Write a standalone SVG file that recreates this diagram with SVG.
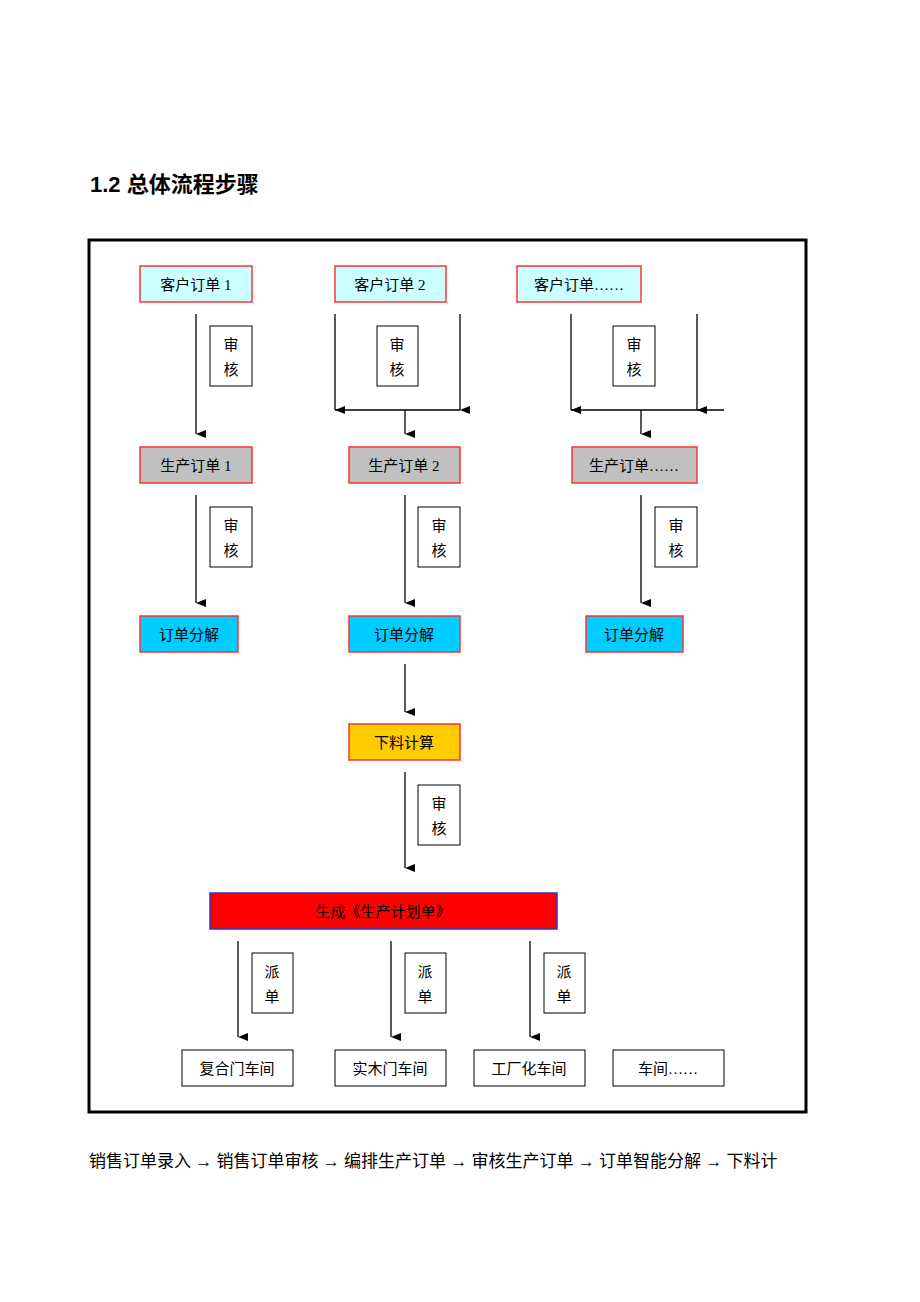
<svg xmlns="http://www.w3.org/2000/svg" width="920" height="1302" viewBox="0 0 920 1302">
<defs>
<marker id="a" markerWidth="8" markerHeight="10" refX="4" refY="10" orient="auto-start-reverse" viewBox="0 0 8 10" markerUnits="userSpaceOnUse"><path d="M0,0 L8,0 L4,10 z" fill="#000"/></marker>
<style>
text{font-family:"Liberation Serif","Noto Sans CJK SC",serif;font-size:15px;text-anchor:middle;fill:#000}
.r{stroke:#ff3333;stroke-width:1.5}
.k{fill:#fff;stroke:#000;stroke-width:1}
.c{stroke:#000;stroke-width:1.3;fill:none}
.ar{marker-end:url(#a)}
</style>
</defs>
<rect width="920" height="1302" fill="#fff"/>
<text x="90" y="192" style="font-family:'Liberation Sans','Noto Sans CJK SC',sans-serif;font-size:22px;font-weight:bold;text-anchor:start">1.2   总体流程步骤</text>
<rect x="89" y="240" width="717" height="872" fill="none" stroke="#000" stroke-width="3"/>
<g id="connectors">
<line class="c ar" x1="196" y1="314" x2="196" y2="434"/>
<line class="c ar" x1="335" y1="314" x2="335" y2="410"/>
<line class="c ar" x1="460" y1="314" x2="460" y2="410"/>
<line class="c" x1="335" y1="410" x2="460" y2="410"/>
<line class="c ar" x1="405" y1="410" x2="405" y2="434"/>
<line class="c ar" x1="571" y1="314" x2="571" y2="410"/>
<line class="c ar" x1="697" y1="314" x2="697" y2="410"/>
<line class="c" x1="571" y1="410" x2="724" y2="410"/>
<line class="c ar" x1="641" y1="410" x2="641" y2="434"/>
<line class="c ar" x1="196" y1="495" x2="196" y2="603"/>
<line class="c ar" x1="405" y1="495" x2="405" y2="603"/>
<line class="c ar" x1="641" y1="495" x2="641" y2="603"/>
<line class="c ar" x1="405" y1="664" x2="405" y2="712"/>
<line class="c ar" x1="405" y1="772" x2="405" y2="868"/>
<line class="c ar" x1="238" y1="941" x2="238" y2="1037"/>
<line class="c ar" x1="391" y1="941" x2="391" y2="1037"/>
<line class="c ar" x1="530" y1="941" x2="530" y2="1037"/>
</g>
<g id="c1"><rect class="r" x="140" y="266" width="112" height="36" fill="#ccffff"/><text x="196" y="290">客户订单 1</text></g>
<g id="c2"><rect class="r" x="335" y="266" width="111" height="36" fill="#ccffff"/><text x="390" y="290">客户订单 2</text></g>
<g id="c3"><rect class="r" x="517" y="266" width="124" height="36" fill="#ccffff"/><text x="579" y="290">客户订单……</text></g>
<g id="s1"><rect class="k" x="210" y="326" width="42" height="60"/><text x="231" y="350">审</text><text x="231" y="375">核</text></g>
<g id="s2"><rect class="k" x="377" y="326" width="41" height="60"/><text x="397" y="350">审</text><text x="397" y="375">核</text></g>
<g id="s3"><rect class="k" x="613" y="326" width="42" height="60"/><text x="634" y="350">审</text><text x="634" y="375">核</text></g>
<g id="p1"><rect class="r" x="140" y="447" width="112" height="36" fill="#c0c0c0"/><text x="196" y="471">生产订单 1</text></g>
<g id="p2"><rect class="r" x="349" y="447" width="111" height="36" fill="#c0c0c0"/><text x="404" y="471">生产订单 2</text></g>
<g id="p3"><rect class="r" x="572" y="447" width="125" height="36" fill="#c0c0c0"/><text x="634" y="471">生产订单……</text></g>
<g id="s4"><rect class="k" x="210" y="507" width="42" height="60"/><text x="231" y="531">审</text><text x="231" y="556">核</text></g>
<g id="s5"><rect class="k" x="418" y="507" width="42" height="60"/><text x="439" y="531">审</text><text x="439" y="556">核</text></g>
<g id="s6"><rect class="k" x="655" y="507" width="42" height="60"/><text x="676" y="531">审</text><text x="676" y="556">核</text></g>
<g id="d1"><rect class="r" x="140" y="616" width="98" height="36" fill="#00ccff"/><text x="189" y="640">订单分解</text></g>
<g id="d2"><rect class="r" x="349" y="616" width="111" height="36" fill="#00ccff"/><text x="404" y="640">订单分解</text></g>
<g id="d3"><rect class="r" x="586" y="616" width="97" height="36" fill="#00ccff"/><text x="634" y="640">订单分解</text></g>
<g id="xl"><rect class="r" x="349" y="724" width="111" height="36" fill="#ffcc00"/><text x="404" y="748">下料计算</text></g>
<g id="s7"><rect class="k" x="418" y="785" width="42" height="60"/><text x="439" y="809">审</text><text x="439" y="834">核</text></g>
<g id="plan"><rect x="210" y="893" width="347" height="36" fill="#ff0000" stroke="#3333cc" stroke-width="1.5"/><text x="383" y="917">生成《生产计划单》</text></g>
<g id="q1"><rect class="k" x="252" y="953" width="41" height="60"/><text x="272" y="977">派</text><text x="272" y="1002">单</text></g>
<g id="q2"><rect class="k" x="405" y="953" width="41" height="60"/><text x="425" y="977">派</text><text x="425" y="1002">单</text></g>
<g id="q3"><rect class="k" x="544" y="953" width="41" height="60"/><text x="564" y="977">派</text><text x="564" y="1002">单</text></g>
<g id="w1"><rect class="k" x="182" y="1050" width="111" height="36"/><text x="237" y="1074">复合门车间</text></g>
<g id="w2"><rect class="k" x="335" y="1050" width="111" height="36"/><text x="390" y="1074">实木门车间</text></g>
<g id="w3"><rect class="k" x="474" y="1050" width="111" height="36"/><text x="529" y="1074">工厂化车间</text></g>
<g id="w4"><rect class="k" x="613" y="1050" width="111" height="36"/><text x="668" y="1074">车间……</text></g>
<text x="89" y="1167" style="font-size:17px;text-anchor:start">销售订单录入 → 销售订单审核 → 编排生产订单 → 审核生产订单 → 订单智能分解 → 下料计</text>
</svg>
